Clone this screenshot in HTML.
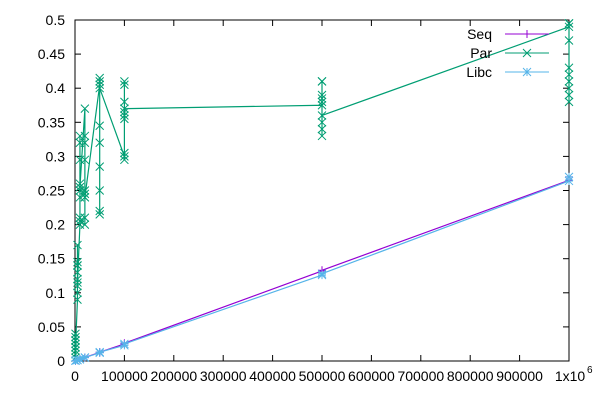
<!DOCTYPE html>
<html><head><meta charset="utf-8"><style>
body{margin:0;background:#fff;}
svg{display:block;font-family:"Liberation Sans",sans-serif;font-size:14px;}
</style></head><body>
<svg id="chart" width="600" height="400"></svg>
<script>
const xTicks=[0,100000,200000,300000,400000,500000,600000,700000,800000,900000];
const yTicks=[0,0.05,0.1,0.15,0.2,0.25,0.3,0.35,0.4,0.45,0.5];
const yTickLabels=["0","0.05","0.1","0.15","0.2","0.25","0.3","0.35","0.4","0.45","0.5"];
const sizes=[1000,5000,10000,20000,50000,100000,500000,1000000];
const seqValues=[[0.0003,0.0005],[0.0013,0.0014],[0.0025,0.0027],[0.005,0.0052],[0.0125,0.013],[0.025,0.026],[0.132,0.133],[0.265,0.27]];
const libcValues=[[0.0003,0.0005],[0.0012,0.0014],[0.0024,0.0026],[0.005,0.0051],[0.012,0.013],[0.023,0.025],[0.126,0.128],[0.264,0.27]];
const parValues=[
[0.005,0.02,0.03,0.035,0.04,0.025,0.01,0.015,0.03,0.02],
[0.09,0.1,0.11,0.12,0.14,0.145,0.13,0.17,0.14,0.115],
[0.2,0.21,0.25,0.26,0.295,0.33,0.32,0.24,0.205,0.255],
[0.37,0.33,0.32,0.295,0.25,0.24,0.21,0.2,0.245,0.24],
[0.405,0.415,0.345,0.32,0.285,0.25,0.22,0.215,0.41,0.4],
[0.3,0.295,0.305,0.41,0.405,0.38,0.36,0.365,0.355,0.37],
[0.375,0.41,0.41,0.39,0.385,0.38,0.34,0.33,0.35,0.36],
[0.49,0.495,0.47,0.43,0.42,0.41,0.4,0.39,0.38,0.495]];
const L=75,R=569,T=20,B=361;
const X=v=>L+v/1000000*(R-L);
const Y=v=>B-v/0.5*(B-T);
const svg=document.getElementById('chart');
const NS='http://www.w3.org/2000/svg';
function mk(tag,attrs,parent){const e=document.createElementNS(NS,tag);for(const k in attrs)e.setAttribute(k,attrs[k]);(parent||svg).appendChild(e);return e;}
xTicks.forEach((v,i)=>{
 const g=mk('g',{});
 
 
 mk('line',{x1:X(v),x2:X(v),y1:B,y2:B-6,stroke:'#000'},g);
 mk('line',{x1:X(v),x2:X(v),y1:T,y2:T+6,stroke:'#000'},g);
 const t=mk('text',{x:X(v),y:B+20,'text-anchor':'middle',fill:'#000'},g);t.textContent=String(v);
});
{const g=mk('g',{});
 
 
 const t=mk('text',{x:R+1,y:B+20,'text-anchor':'middle',fill:'#000'},g);t.textContent='1x10';
 const s=mk('text',{x:R+18,y:B+12,'font-size':'10',fill:'#000'},g);s.textContent='6';}
yTicks.forEach((v,i)=>{
 const g=mk('g',{});
 
 
 mk('line',{x1:L,x2:L+6,y1:Y(v),y2:Y(v),stroke:'#000'},g);
 mk('line',{x1:R,x2:R-6,y1:Y(v),y2:Y(v),stroke:'#000'},g);
 const t=mk('text',{x:L-10,y:Y(v)+5,'text-anchor':'end',fill:'#000'},g);t.textContent=yTickLabels[i];
});
const frame=mk('rect',{x:L,y:T,width:R-L,height:B-T,fill:'none',stroke:'#000'});


function pts(vals){const p=[];vals.forEach((arr,i)=>arr.forEach(v=>p.push([X(sizes[i]),Y(v)])));return p;}
function marker(type,x,y,c,g){
 if(type==='plus'){mk('path',{d:`M${x-4} ${y}h8M${x} ${y-4}v8`,stroke:c},g);}
 else if(type==='x'){mk('path',{d:`M${x-4} ${y-4}l8 8M${x-4} ${y+4}l8 -8`,stroke:c},g);}
 else {mk('path',{d:`M${x-4} ${y-4}l8 8M${x-4} ${y+4}l8 -8M${x-4} ${y}h8M${x} ${y-4}v8`,stroke:c},g);}
}
function series(name,vals,color,type){
 const g=mk('g',{});
 
 
 const p=pts(vals);
 mk('polyline',{points:p.map(q=>q.join(',')).join(' '),fill:'none',stroke:color,'stroke-width':1.2},g);
 p.forEach(q=>marker(type,q[0],q[1],color,g));
}
series('par',parValues,'#009e73','x');
series('seq',seqValues,'#9400d3','plus');
series('libc',libcValues,'#56b4e9','star');
const legend=[['Seq','#9400d3','plus'],['Par','#009e73','x'],['Libc','#56b4e9','star']];
legend.forEach((l,i)=>{
 const g=mk('g',{});
 
 
 const y=34+i*19;
 const t=mk('text',{x:492,y:y+5,'text-anchor':'end',fill:'#000','font-size':'14'},g);t.textContent=l[0];
 mk('line',{x1:505,x2:549,y1:y,y2:y,stroke:l[1]},g);
 marker(l[2],527,y,l[1],g);
});
</script>
</body></html>
